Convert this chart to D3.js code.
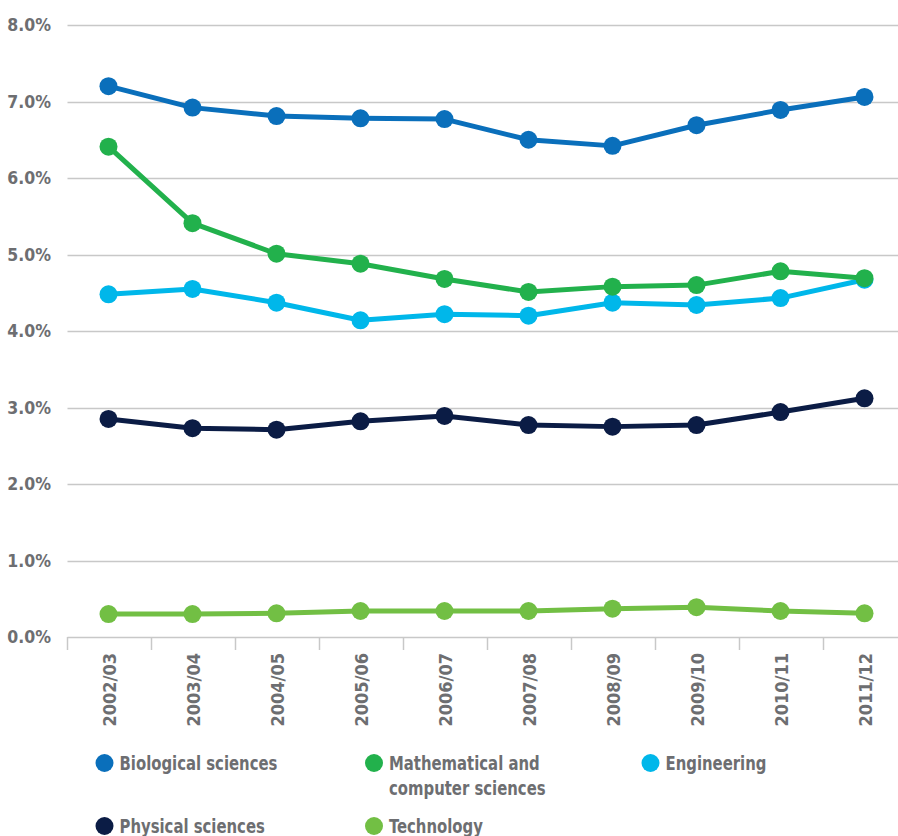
<!DOCTYPE html>
<html><head><meta charset="utf-8">
<script src="https://cdn.jsdelivr.net/npm/d3@7"></script>
<style>
body{margin:0;background:#fff;}
text{font-family:"DejaVu Sans Condensed","Liberation Sans Narrow",sans-serif;font-weight:bold;fill:#6d6e71;}
</style></head><body>
<svg id="c" width="898" height="836"></svg>
<script>
const categories = ["2002/03","2003/04","2004/05","2005/06","2006/07","2007/08","2008/09","2009/10","2010/11","2011/12"];
const biological = [7.20,6.92,6.81,6.78,6.77,6.50,6.42,6.69,6.89,7.06];
const mathematical = [6.41,5.41,5.01,4.88,4.68,4.51,4.58,4.60,4.78,4.69];
const engineering = [4.48,4.55,4.37,4.14,4.22,4.20,4.37,4.34,4.43,4.67];
const physical = [2.85,2.73,2.71,2.82,2.89,2.77,2.75,2.77,2.94,3.12];
const technology = [0.30,0.30,0.31,0.34,0.34,0.34,0.37,0.39,0.34,0.31];
const yTicks = [0,1,2,3,4,5,6,7,8];
const seriesNames = ["Biological sciences","Mathematical and computer sciences","Engineering","Physical sciences","Technology"];

const series = [
  {name:seriesNames[0], values:biological, color:"#0a6fbb"},
  {name:seriesNames[1], values:mathematical, color:"#22b14c"},
  {name:seriesNames[2], values:engineering, color:"#00b7ea"},
  {name:seriesNames[3], values:physical, color:"#0b1c45"},
  {name:seriesNames[4], values:technology, color:"#72bf44"}
];
const drawOrder = [3,4,2,1,0];

const svg = d3.select("#c");
const x = d3.scaleBand().domain(categories).range([67.5,907.5]);
const y = d3.scaleLinear().domain([0,8]).range([637,25]);

svg.append("g").selectAll("line").data(yTicks.filter(d=>d>0)).join("line")
  .attr("x1",67.5).attr("x2",905).attr("y1",d=>Math.round(y(d))+0.5).attr("y2",d=>Math.round(y(d))+0.5)
  .attr("stroke","#c8c8c8").attr("stroke-width",1.5);

svg.append("g").selectAll("text").data(yTicks).join("text")
  .attr("x",51).attr("y",d=>y(d)).attr("dy","0.36em").attr("text-anchor","end")
  .style("font-size","17.5px").text(d=>d.toFixed(1)+"%");

svg.append("line").attr("x1",67.5).attr("x2",905).attr("y1",637.5).attr("y2",637.5)
  .attr("stroke","#c8c8c8").attr("stroke-width",1.5);
svg.append("g").selectAll("line").data(categories).join("line")
  .attr("x1",d=>x(d)).attr("x2",d=>x(d)).attr("y1",637).attr("y2",650)
  .attr("stroke","#c8c8c8").attr("stroke-width",1.5);

svg.append("g").selectAll("text").data(categories).join("text")
  .attr("transform",d=>`translate(${x(d)+x.bandwidth()/2},653) rotate(-90)`)
  .attr("text-anchor","end").attr("dy","0.36em")
  .style("font-size","18px").text(d=>d);

const cx = (d,i)=>x(categories[i])+x.bandwidth()/2-1;
const line = d3.line().x((d,i)=>cx(d,i)).y(d=>y(d));

drawOrder.forEach(k=>{
  const s = series[k];
  const g = svg.append("g");
  g.append("path").attr("d",line(s.values)).attr("fill","none")
    .attr("stroke",s.color).attr("stroke-width",5).attr("stroke-linejoin","round");
  g.selectAll("circle").data(s.values).join("circle")
    .attr("cx",(d,i)=>cx(d,i)).attr("cy",d=>y(d)).attr("r",9).attr("fill",s.color);
});

const legendPos = [
  {x:104.5,y:763},{x:374,y:763},{x:650.5,y:763},{x:104.5,y:826},{x:374,y:826}
];
series.forEach((s,i)=>{
  const p = legendPos[i];
  const g = svg.append("g");
  g.append("circle").attr("cx",p.x).attr("cy",p.y).attr("r",9).attr("fill",s.color);
  const t = g.append("text").attr("transform",`translate(${p.x+15},${p.y}) scale(0.87,1)`)
    .attr("dy","0.36em").style("font-size","19px");
  if(i===1){
    t.append("tspan").attr("x",0).text("Mathematical and");
    t.append("tspan").attr("x",0).attr("dy","1.35em").text("computer sciences");
  } else {
    t.text(s.name);
  }
});
</script></body></html>
